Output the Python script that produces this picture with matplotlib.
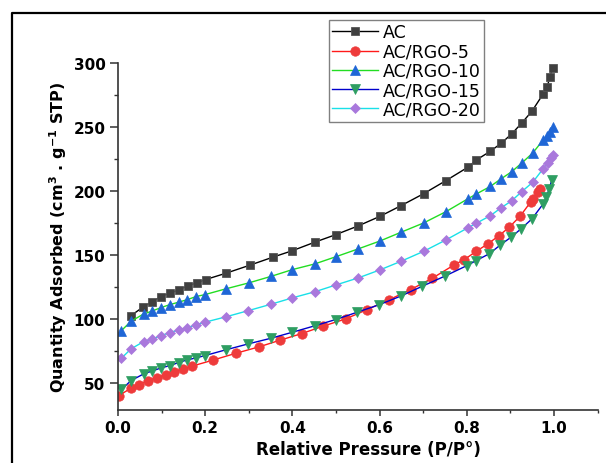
import matplotlib
matplotlib.use("Agg")
import matplotlib.pyplot as plt
from matplotlib.lines import Line2D
from matplotlib.ticker import MultipleLocator

p_ac = [0.030, 0.057, 0.077, 0.099, 0.120, 0.140, 0.161, 0.181, 0.201, 0.248, 0.302, 0.355,
        0.400, 0.451, 0.500, 0.551, 0.601, 0.649, 0.701, 0.752, 0.802, 0.822, 0.854, 0.879,
        0.903, 0.926, 0.949, 0.975, 0.984, 0.990, 0.997]
q_ac = [102.6, 109.2, 113.1, 117.5, 120.4, 122.7, 126.1, 128.2, 130.8, 135.8, 142.0, 148.3,
        153.4, 160.0, 166.0, 172.8, 180.3, 188.6, 198.0, 208.2, 218.6, 224.4, 231.2, 237.5,
        244.8, 253.3, 262.4, 276.0, 281.2, 289.0, 296.3]

p_5 = [0.002, 0.030, 0.048, 0.069, 0.089, 0.109, 0.129, 0.149, 0.169, 0.217, 0.271, 0.323,
       0.372, 0.421, 0.470, 0.522, 0.570, 0.621, 0.671, 0.721, 0.771, 0.794, 0.822, 0.848,
       0.874, 0.897, 0.922, 0.947, 0.952, 0.963, 0.968]
q_5 = [40.0, 45.9, 48.4, 51.8, 54.1, 56.3, 58.8, 60.7, 63.0, 67.7, 73.2, 78.1,
       83.4, 88.5, 94.3, 100.0, 107.1, 114.9, 122.9, 131.9, 142.3, 146.4, 153.0, 158.7,
       165.2, 171.7, 180.3, 191.8, 194.0, 199.1, 202.0]

p_10 = [0.008, 0.030, 0.059, 0.077, 0.099, 0.119, 0.139, 0.159, 0.179, 0.199, 0.247, 0.300,
        0.352, 0.400, 0.451, 0.500, 0.551, 0.601, 0.649, 0.701, 0.752, 0.802, 0.822, 0.854,
        0.878, 0.903, 0.926, 0.951, 0.975, 0.984, 0.990, 0.997]
q_10 = [90.9, 98.2, 103.9, 106.0, 108.9, 111.2, 113.1, 115.1, 117.5, 119.0, 123.5, 128.2,
        133.4, 138.6, 143.0, 148.7, 154.8, 161.0, 167.8, 175.1, 183.9, 193.9, 197.8, 203.7,
        209.5, 215.2, 222.0, 229.8, 240.0, 243.0, 246.5, 250.0]

p_15 = [0.008, 0.030, 0.059, 0.077, 0.099, 0.119, 0.139, 0.159, 0.179, 0.199, 0.247, 0.299,
        0.351, 0.400, 0.451, 0.499, 0.549, 0.598, 0.648, 0.698, 0.749, 0.800, 0.821, 0.851,
        0.877, 0.901, 0.924, 0.949, 0.975, 0.982, 0.989, 0.995]
q_15 = [44.8, 51.8, 57.0, 59.1, 61.7, 63.5, 65.9, 68.0, 69.5, 71.3, 75.8, 80.5,
        84.9, 89.6, 94.6, 99.5, 105.3, 111.0, 117.8, 125.6, 133.4, 141.7, 145.6, 150.9,
        157.9, 163.9, 170.4, 178.2, 190.0, 195.0, 202.0, 209.0]

p_20 = [0.008, 0.030, 0.059, 0.077, 0.099, 0.119, 0.139, 0.159, 0.179, 0.199, 0.247, 0.299,
        0.351, 0.400, 0.451, 0.500, 0.551, 0.601, 0.649, 0.701, 0.752, 0.802, 0.822, 0.854,
        0.878, 0.903, 0.926, 0.951, 0.975, 0.985, 0.992, 0.997]
q_20 = [69.3, 76.6, 82.3, 84.1, 87.0, 89.3, 91.4, 93.2, 95.3, 97.4, 101.6, 106.5,
        111.5, 116.5, 121.2, 126.6, 132.1, 138.4, 145.1, 152.9, 161.8, 171.2, 174.9, 180.8,
        186.8, 192.5, 199.6, 206.9, 217.5, 222.0, 225.5, 228.0]

names = ["AC", "AC/RGO-5", "AC/RGO-10", "AC/RGO-15", "AC/RGO-20"]

fig = plt.figure(figsize=(6.06, 4.64), dpi=100)
ax = fig.add_axes([0.1947, 0.1149, 0.7916, 0.7466])

ax.plot(p_ac, q_ac, color="black", lw=1.0, marker="s", ms=6.2,
        mfc="#404040", mec="#555555", mew=0.6, label=names[0])
ax.plot(p_5, q_5, color="#ff1a1a", lw=1.0, marker="o", ms=6.8,
        mfc="#ee3b3b", mec="#ee3b3b", mew=0.5, label=names[1])
ax.plot(p_10, q_10, color="#22dd22", lw=1.0, marker="^", ms=7.2,
        mfc="#1f66d6", mec="#1f66d6", mew=0.5, label=names[2])
ax.plot(p_15, q_15, color="#0000cc", lw=1.0, marker="v", ms=7.2,
        mfc="#2e9e62", mec="#2e9e62", mew=0.5, label=names[3])
ax.plot(p_20, q_20, color="#19e0e8", lw=1.0, marker="D", ms=5.2,
        mfc="#a978dc", mec="#a978dc", mew=0.5, label=names[4])

ax.set_xlim(0, 1.1)
ax.set_ylim(29, 300)
ax.xaxis.set_major_locator(MultipleLocator(0.2))
ax.xaxis.set_minor_locator(MultipleLocator(0.1))
ax.yaxis.set_major_locator(MultipleLocator(50))
ax.yaxis.set_minor_locator(MultipleLocator(25))

for s in ["top", "right"]:
    ax.spines[s].set_visible(False)
for s in ["left", "bottom"]:
    ax.spines[s].set_linewidth(1.2)
    ax.spines[s].set_color("#333333")

ax.tick_params(axis="x", which="major", direction="out", length=4, width=1.1,
               color="#333333", pad=3.5, labelsize=11)
ax.tick_params(axis="x", which="minor", direction="out", length=2.2, width=1.0, color="#333333")
ax.tick_params(axis="y", which="major", direction="out", length=5.5, width=1.1,
               color="#333333", pad=3.5, labelsize=11)
ax.tick_params(axis="y", which="minor", direction="out", length=3, width=1.0, color="#333333")
for lab in ax.get_xticklabels() + ax.get_yticklabels():
    lab.set_fontweight("bold")

ax.set_xlabel("Relative Pressure (P/P°)", fontsize=12, fontweight="bold")
ax.xaxis.set_label_coords(0.523, -0.088)
ax.set_ylabel(r"Quantity Adsorbed (cm$^{\mathbf{3}}$ . g$^{\mathbf{-1}}$ STP)",
              fontsize=11.5, fontweight="bold")
ax.yaxis.set_label_coords(-0.102, 0.5)

fig.legend(loc="upper left", bbox_to_anchor=(329 / 606, 1 - 21 / 464),
           fontsize=12.5, frameon=True, fancybox=False, edgecolor="#808080",
           framealpha=1, borderpad=0.2, labelspacing=0.07, handlelength=2.6,
           handletextpad=0.3, borderaxespad=0)

# frame line around the picture (left and top only)
xl, yt = 11.5 / 606, 1 - 13.5 / 464
fig.add_artist(Line2D([xl, xl, 1.0], [0.0, yt, yt], transform=fig.transFigure,
                      color="black", lw=1.6))

fig.savefig("out.png", dpi=100)
